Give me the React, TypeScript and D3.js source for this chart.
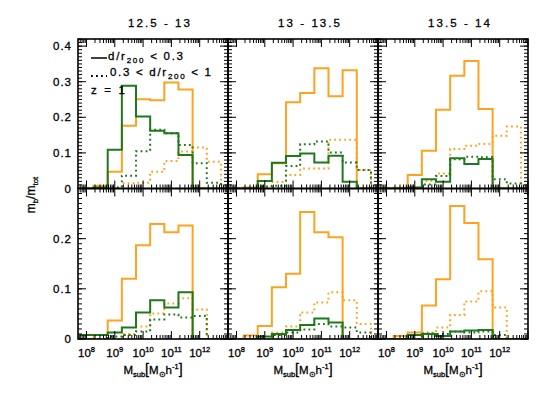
import React from 'react';
import * as d3 from 'd3';

// ---------- data ----------
const massRanges = ["12.5 - 13", "13 - 13.5", "13.5 - 14"];
const binCenters = [8.0, 8.5, 9.0, 9.5, 10.0, 10.5, 11.0, 11.5, 12.0, 12.5]; // log10 Msub
const binWidth = 0.5;
const xTickExponents = [8, 9, 10, 11, 12];
const yTicksTop = [0, 0.1, 0.2, 0.3, 0.4];
const yTicksBottom = [0, 0.1, 0.2];
const legendLabels = ["d/r|200| < 0.3", "0.3 < d/r|200| < 1"];
const redshiftLabel = "z = 1";

// top row, one array per mass range
const topOrangeSolid = [
  [0, 0.0075, 0.047, 0.176, 0.251, 0.248, 0.298, 0.278, 0, 0],
  [0, 0.003, 0.040, 0.071, 0.242, 0.268, 0.338, 0.259, 0.332, 0],
  [0, 0.002, 0.038, 0.106, 0.221, 0.317, 0.358, 0.223, 0, 0],
];
const topOrangeDotted = [
  [0, 0, 0.003, 0.015, 0.016, 0.047, 0.077, 0.104, 0.115, 0.075],
  [0, 0.002, 0.007, 0.018, 0.038, 0.056, 0.056, 0.137, 0.137, 0.052],
  [0, 0, 0.003, 0.021, 0.042, 0.111, 0.120, 0.125, 0.148, 0.174],
];
const topGreenSolid = [
  [0, 0.003, 0.109, 0.289, 0.202, 0.162, 0.155, 0.094, 0, 0],
  [0, 0, 0.021, 0.072, 0.091, 0.098, 0.073, 0.092, 0.019, 0],
  [0, 0, 0.003, 0.026, 0.019, 0.085, 0.069, 0.083, 0, 0],
];
const topGreenDotted = [
  [0, 0, 0.003, 0.036, 0.105, 0.165, 0.155, 0.122, 0.071, 0.016],
  [0, 0, 0.005, 0.008, 0.063, 0.124, 0.132, 0.101, 0.073, 0.052],
  [0, 0, 0, 0.011, 0.035, 0.082, 0.089, 0.088, 0.026, 0.014],
];
// bottom row
const bottomOrangeSolid = [
  [0, 0.008, 0.037, 0.120, 0.187, 0.229, 0.213, 0.226, 0, 0],
  [0, 0.007, 0.026, 0.103, 0.130, 0.253, 0.213, 0.203, 0, 0],
  [0, 0.006, 0.013, 0.067, 0.119, 0.265, 0.231, 0.159, 0, 0],
];
const bottomOrangeDotted = [
  [0, 0, 0, 0.010, 0.025, 0.051, 0.071, 0.081, 0.059, 0],
  [0, 0, 0, 0.013, 0.025, 0.053, 0.073, 0.093, 0.077, 0.030],
  [0, 0, 0, 0.013, 0.023, 0.048, 0.075, 0.095, 0.063, 0],
];
const bottomGreenSolid = [
  [0.008, 0.008, 0.013, 0.023, 0.053, 0.077, 0.063, 0.093, 0, 0],
  [0, 0, 0.005, 0.010, 0.018, 0.028, 0.041, 0.033, 0, 0],
  [0, 0, 0.008, 0.010, 0.006, 0.015, 0.017, 0.018, 0, 0],
];
const bottomGreenDotted = [
  [0, 0, 0.005, 0.008, 0.015, 0.039, 0.049, 0.043, 0.046, 0],
  [0, 0, 0, 0.008, 0.013, 0.019, 0.030, 0.025, 0.023, 0.013],
  [0, 0, 0, 0.011, 0.010, 0.015, 0.013, 0.015, 0.008, 0],
];

// ---------- style / layout ----------
const W = 540, H = 397;
const PANEL_LEFT = 78, PANEL_W = 150;
const X_DOMAIN = [Math.pow(10, 7.7), Math.pow(10, 13)];
const ROWS = [
  { y0: 39, y1: 188.5, ymax: 0.42, yTicks: yTicksTop },
  { y0: 188.5, y1: 339, ymax: 0.3, yTicks: yTicksBottom },
];
const ORANGE = '#ffa21f';
const GREEN = '#1c7a1c';
const FONT = '"Liberation Sans", Arial, Helvetica, sans-serif';
const DOT = '1.8 3.2';
const TXT = { fill: '#000', stroke: '#000', strokeWidth: 0.3 };

type Series = { values: number[]; color: string; dotted: boolean };

function histPath(values: number[], x: any, y: any) {
  const lo = Math.log10(X_DOMAIN[0]);
  const hi = Math.log10(X_DOMAIN[1]);
  const pts: [number, number][] = [[lo, 0]];
  values.forEach((v, i) => pts.push([binCenters[i] - binWidth / 2, v]));
  pts.push([binCenters[binCenters.length - 1] + binWidth / 2, 0]);
  pts.push([hi, 0]);
  const line = d3
    .line<[number, number]>()
    .x((d) => x(Math.pow(10, d[0])))
    .y((d) => y(d[1]))
    .curve(d3.curveStepAfter);
  return line(pts) as string;
}

function Panel({ col, row, series }: { col: number; row: number; series: Series[] }) {
  const R = ROWS[row];
  const x0 = PANEL_LEFT + col * PANEL_W;
  const x = d3.scaleLog().domain(X_DOMAIN).range([x0, x0 + PANEL_W]);
  const y = d3.scaleLinear().domain([0, R.ymax]).range([R.y1, R.y0]);
  const clipId = `clip-${row}-${col}`;

  const majorX: number[] = [];
  const minorX: number[] = [];
  for (let d = 7; d <= 13; d++) {
    for (let k = 1; k <= 9; k++) {
      const v = k * Math.pow(10, d);
      if (v < X_DOMAIN[0] || v > X_DOMAIN[1]) continue;
      (k === 1 ? majorX : minorX).push(v);
    }
  }
  const minorY: number[] = [];
  for (let i = 0; i * 0.01 <= R.ymax + 1e-9; i++) minorY.push(i * 0.01);
  const majorY = minorY.filter((_, i) => i % 10 === 0);

  const tick = (key: string, x1: number, y1: number, x2: number, y2: number) => (
    <line key={key} x1={x1} y1={y1} x2={x2} y2={y2} stroke="#000" strokeWidth={1} />
  );
  const ticks: any[] = [];
  majorX.forEach((v, i) => {
    ticks.push(tick(`xb${i}`, x(v), R.y1, x(v), R.y1 - 8));
    ticks.push(tick(`xt${i}`, x(v), R.y0, x(v), R.y0 + 8));
  });
  minorX.forEach((v, i) => {
    ticks.push(tick(`mxb${i}`, x(v), R.y1, x(v), R.y1 - 4));
    ticks.push(tick(`mxt${i}`, x(v), R.y0, x(v), R.y0 + 4));
  });
  majorY.forEach((v, i) => {
    ticks.push(tick(`yl${i}`, x0, y(v), x0 + 8, y(v)));
    ticks.push(tick(`yr${i}`, x0 + PANEL_W, y(v), x0 + PANEL_W - 8, y(v)));
  });
  minorY.forEach((v, i) => {
    ticks.push(tick(`myl${i}`, x0, y(v), x0 + 4, y(v)));
    ticks.push(tick(`myr${i}`, x0 + PANEL_W, y(v), x0 + PANEL_W - 4, y(v)));
  });

  return (
    <g>
      <defs>
        <clipPath id={clipId}>
          <rect x={x0} y={R.y0} width={PANEL_W} height={R.y1 - R.y0} />
        </clipPath>
      </defs>
      <g clipPath={`url(#${clipId})`}>
        {series.map((s, i) => (
          <path
            key={i}
            d={histPath(s.values, x, y)}
            fill="none"
            stroke={s.color}
            strokeWidth={2}
            strokeDasharray={s.dotted ? DOT : undefined}
          />
        ))}
      </g>
      {ticks}
      <rect x={x0} y={R.y0} width={PANEL_W} height={R.y1 - R.y0} fill="none" stroke="#000" strokeWidth={1.6} />
      {col === 0 &&
        R.yTicks.map((v) => (
          <text key={v} x={72} y={y(v) + 4} textAnchor="end" fontSize={11.5} letterSpacing={1} {...TXT}>
            {v === 0 ? '0' : d3.format('.1f')(v)}
          </text>
        ))}
      {row === 1 &&
        xTickExponents.map((e) => (
          <text key={e} x={x(Math.pow(10, e))} y={357} textAnchor="middle" fontSize={11.5} {...TXT}>
            10
            <tspan dy={-5} fontSize={7.5}>{e}</tspan>
          </text>
        ))}
      {row === 1 && (
        <text x={x0 + PANEL_W / 2} y={374} textAnchor="middle" fontSize={11.5} {...TXT}>
          M<tspan dy={3} fontSize={7.5}>sub</tspan>
          <tspan dy={-3} fontSize={14}>[</tspan>
          <tspan>M</tspan>
          <tspan dy={3} fontSize={7.5}>⊙</tspan>
          <tspan dy={-3}>h</tspan>
          <tspan dy={-5} fontSize={7.5}>-1</tspan>
          <tspan dy={5} fontSize={14}>]</tspan>
        </text>
      )}
      {row === 0 && (
        <text x={x0 + PANEL_W / 2 + 6} y={27} textAnchor="middle" fontSize={11.5} textLength={62} lengthAdjust="spacing" {...TXT}>
          {massRanges[col]}
        </text>
      )}
    </g>
  );
}

function LegendText({ label, x, y, len }: { label: string; x: number; y: number; len: number }) {
  const parts = label.split('|');
  return (
    <text x={x} y={y} fontSize={11.5} textLength={len} lengthAdjust="spacing" {...TXT}>
      {parts.map((p, i) =>
        i % 2 === 1 ? (
          <tspan key={i} dy={3} fontSize={8}>{p}</tspan>
        ) : (
          <tspan key={i} dy={i === 0 ? 0 : -3} style={{ whiteSpace: 'pre' }}>{p}</tspan>
        )
      )}
    </text>
  );
}

export default function App() {
  const rows = [
    [topOrangeSolid, topOrangeDotted, topGreenSolid, topGreenDotted],
    [bottomOrangeSolid, bottomOrangeDotted, bottomGreenSolid, bottomGreenDotted],
  ];
  const styles = [
    { color: ORANGE, dotted: false },
    { color: ORANGE, dotted: true },
    { color: GREEN, dotted: false },
    { color: GREEN, dotted: true },
  ];
  const panels: any[] = [];
  rows.forEach((sets, r) => {
    massRanges.forEach((_, c) => {
      const series: Series[] = sets.map((s, k) => ({ values: s[c], ...styles[k] }));
      panels.push(<Panel key={`${r}-${c}`} row={r} col={c} series={series} />);
    });
  });

  return (
    <svg
      width={W}
      height={H}
      style={{ position: 'absolute', left: 0, top: 0, background: '#fff' }}
      fontFamily={FONT}
    >
      <rect x={0} y={0} width={W} height={H} fill="#fff" />
      {panels}
      {/* legend */}
      <line x1={91} x2={107} y1={58} y2={58} stroke="#000" strokeWidth={1.5} />
      <LegendText label={legendLabels[0]} x={108} y={59.5} len={75} />
      <line x1={91} x2={107} y1={76} y2={76} stroke="#000" strokeWidth={1.8} strokeDasharray={DOT} />
      <LegendText label={legendLabels[1]} x={110} y={76} len={101} />
      <text x={91} y={94} fontSize={11.5} textLength={34} lengthAdjust="spacing" {...TXT}>{redshiftLabel}</text>
      {/* y label */}
      <text transform="translate(35,195) rotate(-90)" textAnchor="middle" fontSize={12} {...TXT}>
        m<tspan dy={3} fontSize={8}>b</tspan>
        <tspan dy={-3}>/m</tspan>
        <tspan dy={3} fontSize={8}>tot</tspan>
      </text>
    </svg>
  );
}
